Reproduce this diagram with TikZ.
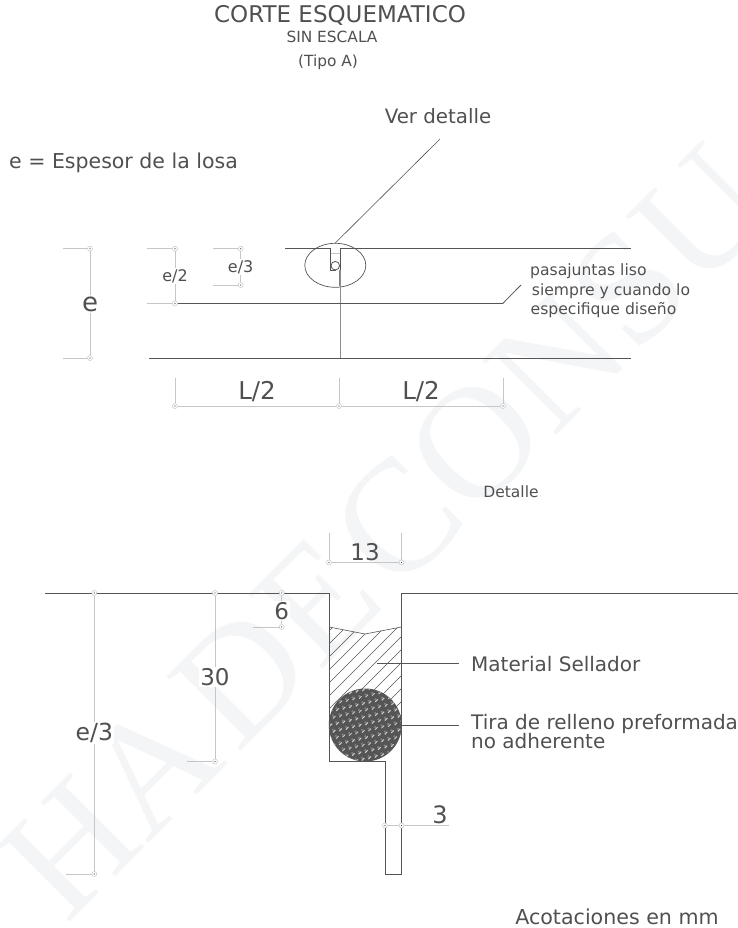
\documentclass[tikz,border=0pt]{standalone}
\usepackage{fontspec}
\usetikzlibrary{shapes.geometric}
\setmainfont{DejaVu Sans}
\newfontfamily\wmfont{Liberation Serif}
\definecolor{txtc}{HTML}{505050}
\definecolor{linec}{HTML}{555555}
\definecolor{dimc}{HTML}{C6C6C6}
\definecolor{wmc}{HTML}{F4F5F7}
\newcommand{\fs}[1]{\fontsize{#1}{#1}\selectfont}
\tikzset{
  x=1pt,y=-1pt,
  lbl/.style={text=txtc,inner sep=0pt,anchor=center},
  lft/.style={text=txtc,inner sep=0pt,anchor=base west},
  gapped/.style={text=txtc,fill=white,inner xsep=1pt,inner ysep=1.5pt,anchor=center},
  main/.style={draw=linec,line width=.8pt},
  thin main/.style={draw=linec,line width=.6pt},
  dim/.style={draw=dimc,line width=.7pt},
  dimdot/.style={circle,draw=dimc,fill=white,line width=.5pt,minimum size=5pt,inner sep=0pt,
    path picture={\fill[black!75] (path picture bounding box.center) circle (.6pt);}},
  hatchln/.style={draw=linec,line width=.6pt},
}
\begin{document}
\begin{tikzpicture}
\useasboundingbox (0,0) rectangle (738,928);
% watermark
\begin{scope}
\clip (0,0) rectangle (738,928);
\node[text=wmc,inner sep=0pt,rotate=45] (wm) at (386,532) {\wmfont\fs{160}\spaceskip=.07em\relax HA DE CONSU};
\end{scope}
% titles
\node[lbl] (title) at (340,15) {\fs{23}CORTE ESQUEMATICO};
\node[lbl] (sinesc) at (332,37) {\fs{15.4}SIN ESCALA};
\node[lbl] (tipo) at (328,62) {\fs{15.4}(Tipo A)};
\node[lbl] (ver) at (438,116) {\fs{19.8}Ver detalle};
\node[lft] (esp) at (9,169) {\fs{20.5}e = Espesor de la losa};
% schematic section
\coordinate (topL) at (285,248.7);
\coordinate (topR) at (631,248.7);
\coordinate (botL) at (149,358);
\coordinate (botR) at (631,358);
\coordinate (midK) at (502.7,303.5);
\coordinate (midE) at (521,285);
\coordinate (verE) at (440,139);
\draw[main] (topL) -- (topR);
\draw[main] (botL) -- (botR);
\node[draw=linec,line width=.7pt,ellipse,minimum width=61pt,minimum height=44pt,inner sep=0pt] (oval) at (335.3,265.3) {};
\draw[thin main] (oval.north) -- (verE);
% small joint
\coordinate (jA) at (330.7,248.7);
\coordinate (jB) at (330.7,270.7);
\coordinate (jC) at (336,270.7);
\coordinate (jD) at (340,248.7);
\coordinate (jE) at (340,358);
\coordinate (jF) at (339.4,270);
\coordinate (jG) at (339.4,286);
\draw[white,line width=1.4pt] (331,248.7) -- (339.6,248.7);
\draw[draw=dimc,line width=.6pt] (330.7,253.5) -- (340,253.5);
\draw[main] (jA) -- (jB) -- (jC);
\draw[draw=linec,line width=.8pt] (jD) -- (340,270);
\draw[draw=black!45,line width=1pt] (340,270) -- (jE);
\draw[draw=black!50,line width=1.8pt] (jF) -- (jG);
\node[circle,draw=linec,fill=white,line width=.8pt,minimum size=8.6pt,inner sep=0pt] (dowel) at (335.3,265.7) {};
% e dim
\node[dimdot] (eT) at (90,248.7) {};
\node[dimdot] (eB) at (90,358) {};
\coordinate (eTt) at (63,248.7);
\coordinate (eBt) at (63,358);
\draw[dim] (eTt) -- (eT) -- (eB) -- (eBt);
\node[gapped] (elab) at (90,304) {\fs{26}e};
% e/2 dim
\node[dimdot] (hT) at (175,248.7) {};
\node[dimdot] (hB) at (175,303.5) {};
\coordinate (hTt) at (147,248.7);
\coordinate (hBt) at (147,303.5);
\draw[dim] (hTt) -- (hT) -- (hB) -- (hBt);
\draw[main] (hB) -- (midK) -- (midE);
\node[gapped] (hlab) at (175,276) {\fs{16}e/2};
% e/3 small
\node[dimdot] (tT) at (240.7,248.7) {};
\node[dimdot] (tB) at (240.7,285) {};
\coordinate (tTt) at (213,248.7);
\coordinate (tBt) at (213,285);
\draw[dim] (tTt) -- (tT) -- (tB) -- (tBt);
\node[gapped] (tlab) at (240.7,267) {\fs{16}e/3};
% L/2
\node[dimdot] (l1) at (175,406) {};
\node[dimdot] (l2) at (339,406) {};
\node[dimdot] (l3) at (503,406) {};
\coordinate (l1t) at (175,378);
\coordinate (l2t) at (339,378);
\coordinate (l3t) at (503,378);
\draw[dim] (l1t) -- (l1) -- (l2) -- (l3) -- (l3t);
\draw[dim] (l2t) -- (l2);
\node[lbl] (llab1) at (257,392) {\fs{24.5}L/2};
\node[lbl] (llab2) at (421,392) {\fs{24.5}L/2};
% pasajuntas
\node[lft] (p1) at (530,275) {\fs{15.6}pasajuntas liso};
\node[lft] (p2) at (531.7,295) {\fs{15.6}siempre y cuando lo};
\node[lft] (p3) at (530.5,314) {\fs{15.6}especifique diseño};
\node[lbl] (det) at (511,492) {\fs{15.5}Detalle};
% detail section
\coordinate (dL0) at (45,593);
\coordinate (dL1) at (329,593);
\coordinate (dR1) at (401.5,593);
\coordinate (dR0) at (738,593);
\coordinate (dC) at (329,761);
\coordinate (dD) at (385,761);
\coordinate (dE) at (385,874);
\coordinate (dF) at (401.5,874);
\begin{scope}
\clip (329,627) -- (365,634) -- (401.5,627) -- (401.5,725) -- (329,725) -- cycle;
\foreach \c in {947,960,...,1155} {
  \draw[hatchln] (\c-300,300) -- (\c-800,800);
}
\end{scope}
\draw[thin main] (329,627) -- (365,634) -- (401.5,627);
\node[circle,fill=linec,minimum size=73pt,inner sep=0pt] (rod) at (365.3,725) {};
\begin{scope}
\clip (365.3,725) circle (36.3);
\foreach \i in {-7,...,7} \foreach \j in {-7,...,7} {
  \draw[white!80!black,line width=1pt] ({365.3+\i*6.5+\j*3.2},{725+\j*6.2-\i*1.5}) -- ++(2.6,-2.6);
  \fill[white!50!black] ({368.6+\i*6.5+\j*3.2},{728.5+\j*6.2-\i*1.5}) circle (1.2);
}
\end{scope}
\draw[main,line width=.9pt] (dL0) -- (dL1) -- (dC) -- (dD) -- (dE) -- (dF) -- (dR1) -- (dR0);
% leaders
\coordinate (ms0) at (377,663);
\coordinate (ms1) at (459,663);
\coordinate (ti1) at (459,725);
\draw[thin main] (ms0) -- (ms1);
\draw[thin main] (rod.east) -- (ti1);
\node[lft] (ms) at (471,671) {\fs{20}Material Sellador};
\node[lft] (ti) at (471,729) {\fs{20}Tira de relleno preformada};
\node[lft] (na) at (471,748) {\fs{20}no adherente};
% 13
\node[dimdot] (a1) at (329,562.5) {};
\node[dimdot] (a2) at (401.5,562.5) {};
\coordinate (a1t) at (329,533);
\coordinate (a2t) at (401.5,533);
\draw[dim] (a1t) -- (a1) -- (a2) -- (a2t);
\node[lbl] (a13) at (365,552) {\fs{23}13};
% 6
\node[dimdot] (b1) at (281.7,593) {};
\node[dimdot] (b2) at (281.7,627) {};
\coordinate (b2t) at (253,627);
\draw[dim] (b1) -- (b2) -- (b2t);
\node[gapped] (b6) at (281.7,610.7) {\fs{23}6};
% 30
\node[dimdot] (c1) at (215,593) {};
\node[dimdot] (c2) at (215,761.5) {};
\coordinate (c2t) at (187,761.5);
\draw[dim] (c1) -- (c2) -- (c2t);
\node[gapped] (c30) at (215,677) {\fs{23}30};
% e/3 large
\node[dimdot] (d1) at (94.3,593) {};
\node[dimdot] (d2) at (94.3,874) {};
\coordinate (d2t) at (66,874);
\draw[dim] (d1) -- (d2) -- (d2t);
\node[gapped] (d3) at (94.3,733) {\fs{23.5}e/3};
% 3
\node[dimdot] (f1) at (385,825.5) {};
\node[dimdot] (f2) at (401.5,825.5) {};
\coordinate (f2t) at (448.5,825.5);
\draw[dim] (f1) -- (f2) -- (f2t);
\node[lbl] (f3) at (440,814.7) {\fs{24}3};
\node[lbl] (aco) at (617,917) {\fs{20.6}Acotaciones en mm};
\end{tikzpicture}
\end{document}
